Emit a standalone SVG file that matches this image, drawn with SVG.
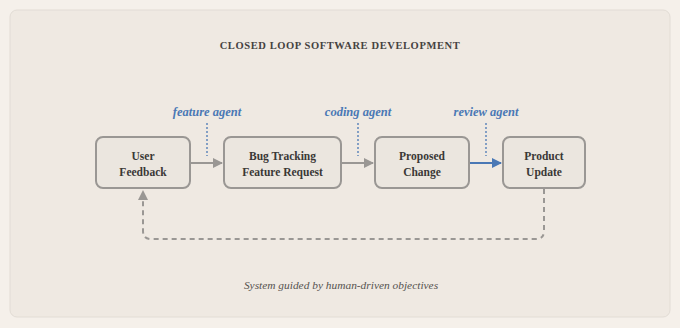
<svg xmlns="http://www.w3.org/2000/svg" width="680" height="328" viewBox="0 0 680 328">
<defs>
<style>
.node rect{fill:#ebe6df;stroke:#9a9794;stroke-width:2}
.node text{font-family:"Liberation Serif",serif;font-weight:bold;font-size:11.5px;fill:#3a3836;text-anchor:middle}
.agent{font-family:"Liberation Serif",serif;font-style:italic;font-weight:bold;font-size:12.5px;fill:#4a78b5;text-anchor:middle}
.dot{stroke:#4a78b5;stroke-width:1.3;stroke-dasharray:2,2;fill:none}
.conn{stroke:#9a9794;stroke-width:2;fill:none}
.blue{stroke:#4a78b5;stroke-width:2;fill:none}
</style>
<marker id="ag" viewBox="0 0 10 10" refX="9" refY="5" markerWidth="5" markerHeight="5" markerUnits="strokeWidth" orient="auto"><path d="M0,0 L10,5 L0,10 z" fill="#9a9794"/></marker>
<marker id="ab" viewBox="0 0 10 10" refX="9" refY="5" markerWidth="5" markerHeight="5" markerUnits="strokeWidth" orient="auto"><path d="M0,0 L10,5 L0,10 z" fill="#4a78b5"/></marker>
</defs>
<rect x="0" y="0" width="680" height="328" fill="#f5f0ea"/>
<rect x="10" y="10" width="660" height="307" rx="7" fill="#efe9e2" stroke="#e2dcd5" stroke-width="1"/>
<text x="340" y="49" font-family="Liberation Serif,serif" font-weight="bold" font-size="10.5" letter-spacing="0.6" fill="#45423f" text-anchor="middle">CLOSED LOOP SOFTWARE DEVELOPMENT</text>

<g id="connectors">
<line class="conn" x1="191" y1="163" x2="222" y2="163" marker-end="url(#ag)"/>
<line class="conn" x1="342" y1="163" x2="373" y2="163" marker-end="url(#ag)"/>
<line class="blue" x1="470" y1="163" x2="501" y2="163" marker-end="url(#ab)"/>
<path class="conn" d="M544,189 V231 Q544,239 536,239 H151 Q143,239 143,231 V191" stroke-width="1.3" stroke-dasharray="5,4" marker-end="url(#ag)"/>
<line class="dot" x1="207" y1="123" x2="207" y2="156"/>
<line class="dot" x1="358" y1="123" x2="358" y2="156"/>
<line class="dot" x1="486" y1="123" x2="486" y2="156"/>
<text class="agent" x="207" y="116">feature agent</text>
<text class="agent" x="358" y="116">coding agent</text>
<text class="agent" x="486" y="116">review agent</text>
</g>

<g id="user-feedback" class="node"><rect x="96" y="137" width="94" height="51" rx="7"/><text x="143" y="160">User</text><text x="143" y="176">Feedback</text></g>
<g id="bug-tracking" class="node"><rect x="224" y="137" width="117" height="51" rx="7"/><text x="282.5" y="160">Bug Tracking</text><text x="282.5" y="176">Feature Request</text></g>
<g id="proposed-change" class="node"><rect x="375" y="137" width="94" height="51" rx="7"/><text x="422" y="160">Proposed</text><text x="422" y="176">Change</text></g>
<g id="product-update" class="node"><rect x="503" y="137" width="82" height="51" rx="7"/><text x="544" y="160">Product</text><text x="544" y="176">Update</text></g>

<text x="341" y="289" font-family="Liberation Serif,serif" font-style="italic" font-size="11.4" fill="#55524f" text-anchor="middle">System guided by human-driven objectives</text>
</svg>
